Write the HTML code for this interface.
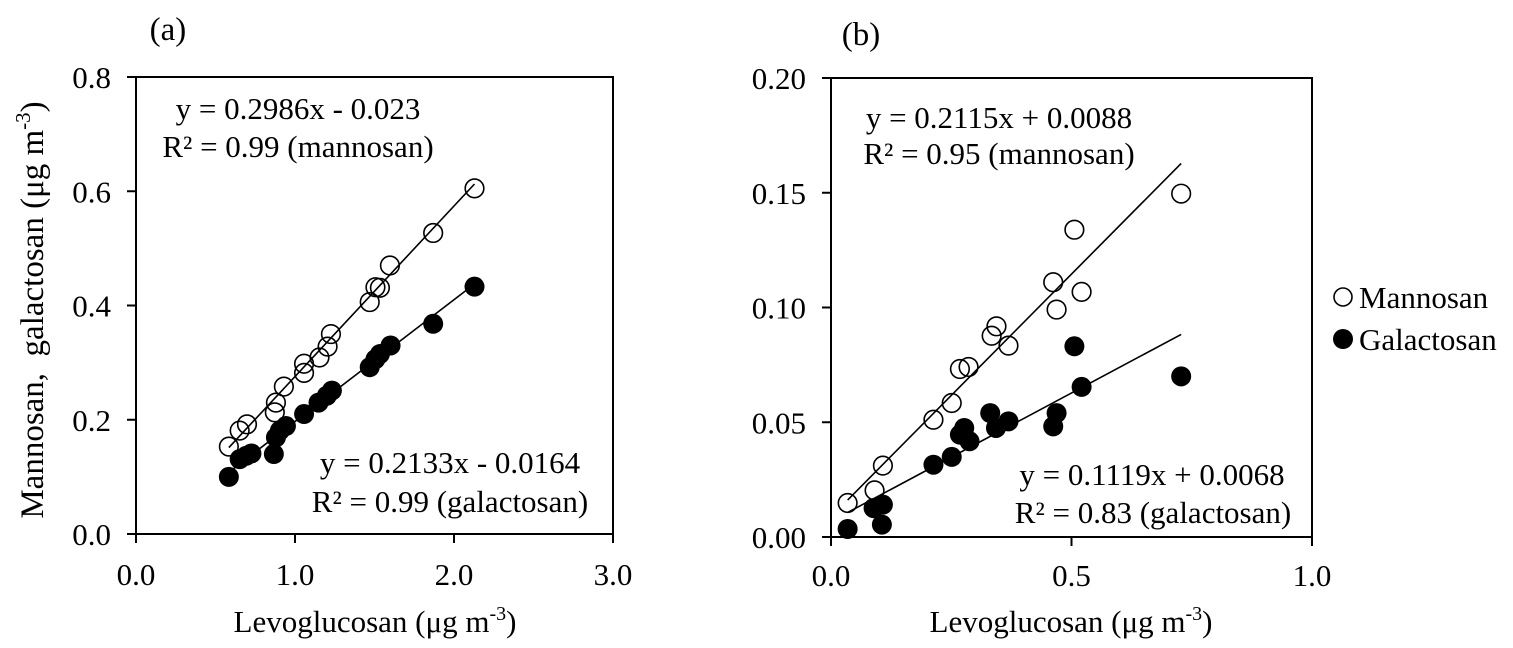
<!DOCTYPE html>
<html><head><meta charset="utf-8"><style>
html,body{margin:0;padding:0;background:#fff;}
svg{display:block;font-family:"Liberation Serif","Times New Roman",serif;}
</style></head><body>
<svg id="chart" width="1513" height="648" viewBox="0 0 1513 648" xmlns="http://www.w3.org/2000/svg">
<g id="pa"></g>
<g id="pb"></g>
<g>
  <g>
    <circle cx="1343" cy="297" r="9" fill="#fff" stroke="#000" stroke-width="1.6"/>
    <text x="1359" y="308" font-size="31">Mannosan</text>
  </g>
  <g>
    <circle cx="1343" cy="339" r="10" fill="#000"/>
    <text x="1359" y="350" font-size="31">Galactosan</text>
  </g>
</g>
</svg>
<script>
// Panel (a) data
const aLevoMan = [0.584,0.652,0.698,0.873,0.880,0.930,1.057,1.057,1.154,1.205,1.226,1.470,1.506,1.534,1.597,1.869,2.129];
const aMan = [0.153,0.181,0.192,0.213,0.230,0.258,0.282,0.298,0.309,0.328,0.350,0.406,0.432,0.431,0.470,0.527,0.605];
const aLevoGal = [0.584,0.652,0.694,0.726,0.867,0.880,0.905,0.943,1.057,1.148,1.200,1.232,1.470,1.506,1.534,1.601,1.869,2.129];
const aGal = [0.100,0.131,0.137,0.141,0.140,0.169,0.181,0.189,0.210,0.230,0.242,0.251,0.292,0.306,0.315,0.330,0.368,0.433];
const aXTicks = [0,1,2,3];
const aXTickLabels = ["0.0","1.0","2.0","3.0"];
const aYTicks = [0,0.2,0.4,0.6,0.8];
const aYTickLabels = ["0.0","0.2","0.4","0.6","0.8"];
const aFitMan = [0.2986,-0.023];
const aFitGal = [0.2133,-0.0164];
// Panel (b) data
const bLevoMan = [0.0346,0.0906,0.1079,0.213,0.251,0.268,0.286,0.334,0.344,0.369,0.462,0.469,0.506,0.521,0.728];
const bMan = [0.0148,0.0203,0.0311,0.0511,0.0584,0.0732,0.0741,0.0877,0.0918,0.0834,0.1110,0.0991,0.1339,0.1068,0.1496];
const bLevoGal = [0.0346,0.0885,0.1079,0.1058,0.213,0.251,0.268,0.277,0.288,0.331,0.343,0.369,0.462,0.469,0.506,0.521,0.728];
const bGal = [0.0035,0.0126,0.0141,0.0054,0.0315,0.0349,0.0446,0.0475,0.0417,0.0540,0.0475,0.0504,0.0482,0.0540,0.0831,0.0654,0.0700];
const bXTicks = [0,0.5,1];
const bXTickLabels = ["0.0","0.5","1.0"];
const bYTicks = [0,0.05,0.1,0.15,0.2];
const bYTickLabels = ["0.00","0.05","0.10","0.15","0.20"];
const bFitMan = [0.2115,0.0088];
const bFitGal = [0.1119,0.0068];

const NS="http://www.w3.org/2000/svg";
function mk(parent,tag,attrs,txt){const e=document.createElementNS(NS,tag);for(const k in attrs)e.setAttribute(k,attrs[k]);if(txt!==undefined)e.textContent=txt;parent.appendChild(e);return e;}

function panel(g,cfg){
  const sx=v=>cfg.x0+(v-cfg.xmin)/(cfg.xmax-cfg.xmin)*(cfg.x1-cfg.x0);
  const sy=v=>cfg.y0-(v-cfg.ymin)/(cfg.ymax-cfg.ymin)*(cfg.y0-cfg.y1);
  const frame=mk(g,'rect',{x:cfg.x0,y:cfg.y1,width:cfg.x1-cfg.x0,height:cfg.y0-cfg.y1,fill:'none',stroke:'#000','stroke-width':2});
  
  
  cfg.xt.forEach((t,i)=>{
    const l=mk(g,'line',{x1:sx(t),x2:sx(t),y1:cfg.y0,y2:cfg.y0+9,stroke:'#000','stroke-width':2});
    
    
    const tx=mk(g,'text',{x:sx(t),y:cfg.tickY,'font-size':31,'text-anchor':'middle'},cfg.xtl[i]);
    
    
  });
  cfg.yt.forEach((t,i)=>{
    const l=mk(g,'line',{x1:cfg.x0-9,x2:cfg.x0,y1:sy(t),y2:sy(t),stroke:'#000','stroke-width':2});
    
    
    const tx=mk(g,'text',{x:cfg.x0-25,y:sy(t)+11,'font-size':31,'text-anchor':'end'},cfg.ytl[i]);
    
    
  });
  [[cfg.lm,cfg.fm,'fit-line-mannosan'],[cfg.lg,cfg.fg,'fit-line-galactosan']].forEach(([xs,f,n])=>{
    const a=Math.min(...xs),b=Math.max(...xs);
    const l=mk(g,'line',{x1:sx(a),y1:sy(f[0]*a+f[1]),x2:sx(b),y2:sy(f[0]*b+f[1]),stroke:'#000','stroke-width':1.6});
    
    
  });
  cfg.lg.forEach((x,i)=>{
    const c=mk(g,'circle',{cx:sx(x),cy:sy(cfg.g[i]),r:10,fill:'#000'});
    
    
  });
  cfg.lm.forEach((x,i)=>{
    const c=mk(g,'circle',{cx:sx(x),cy:sy(cfg.m[i]),r:9.3,fill:'none',stroke:'#000','stroke-width':1.6});
    
    
  });
}

panel(document.getElementById('pa'),{x0:136,x1:613,y0:534,y1:77,xmin:0,xmax:3,ymin:0,ymax:0.8,tickY:585,
  xt:aXTicks,xtl:aXTickLabels,yt:aYTicks,ytl:aYTickLabels,lm:aLevoMan,m:aMan,lg:aLevoGal,g:aGal,fm:aFitMan,fg:aFitGal});
panel(document.getElementById('pb'),{x0:831,x1:1312,y0:537,y1:78,xmin:0,xmax:1,ymin:0,ymax:0.2,tickY:586,
  xt:bXTicks,xtl:bXTickLabels,yt:bYTicks,ytl:bYTickLabels,lm:bLevoMan,m:bMan,lg:bLevoGal,g:bGal,fm:bFitMan,fg:bFitGal});

function txt(x,y,s,anchor,name,extra,fs){
  const t=mk(document.getElementById('chart'),'text',Object.assign({x:x,y:y,'font-size':fs||31,'text-anchor':anchor},extra||{}));
  t.innerHTML=s;
  
  
  return t;
}
txt(168,40,'(a)','middle','panel-a-label',null,33);
txt(861,45,'(b)','middle','panel-b-label',null,33);
txt(298,119,'y = 0.2986x - 0.023','middle','equation-a-mannosan');
txt(298,157,'R² = 0.99 (mannosan)','middle','r2-a-mannosan');
txt(450,473,'y = 0.2133x - 0.0164','middle','equation-a-galactosan');
txt(450,512,'R² = 0.99 (galactosan)','middle','r2-a-galactosan');
txt(999,128,'y = 0.2115x + 0.0088','middle','equation-b-mannosan');
txt(999,164,'R² = 0.95 (mannosan)','middle','r2-b-mannosan');
txt(1152,485,'y = 0.1119x + 0.0068','middle','equation-b-galactosan');
txt(1153,523,'R² = 0.83 (galactosan)','middle','r2-b-galactosan');
txt(375,632,'Levoglucosan (μg m<tspan font-size="20" dy="-12">-3</tspan><tspan dy="12">)</tspan>','middle','x-axis-title-a');
txt(1071,632,'Levoglucosan (μg m<tspan font-size="20" dy="-12">-3</tspan><tspan dy="12">)</tspan>','middle','x-axis-title-b');
txt(0,0,'Mannosan,&#160; galactosan (μg m<tspan font-size="21" dy="-13">-3</tspan><tspan dy="13">)</tspan>','middle','y-axis-title-a',{transform:'translate(43,310) rotate(-90)'},33);
</script>
</body></html>
